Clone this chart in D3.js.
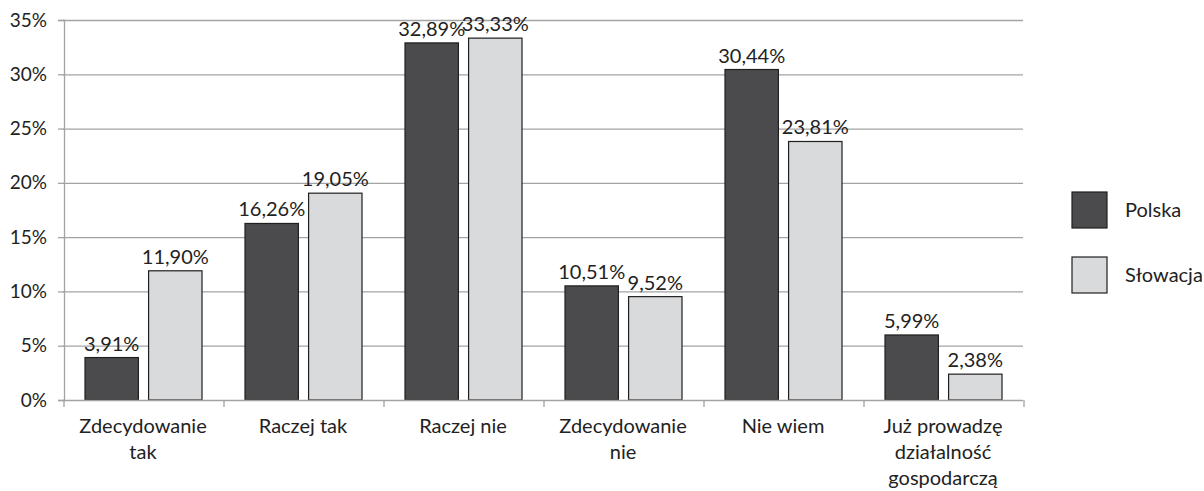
<!DOCTYPE html>
<html>
<head>
<meta charset="utf-8">
<script src="https://cdn.jsdelivr.net/npm/d3@7"></script>
<style>
  body { margin: 0; background: #fff; }
  text { font-family: Lato, "Open Sans", sans-serif; fill: #222; }
</style>
</head>
<body>
<div id="chart"></div>
<script>
const categories = [
  ["Zdecydowanie", "tak"],
  ["Raczej tak"],
  ["Raczej nie"],
  ["Zdecydowanie", "nie"],
  ["Nie wiem"],
  ["Już prowadzę", "działalność", "gospodarczą"]
];
const seriesNames = ["Polska", "Słowacja"];
const polska = [3.91, 16.26, 32.89, 10.51, 30.44, 5.99];
const slowacja = [11.90, 19.05, 33.33, 9.52, 23.81, 2.38];
const yTicks = [0, 5, 10, 15, 20, 25, 30, 35];
const colors = ["#4b4b4d", "#d9dadc"];

const width = 1204, height = 491;
const marginTop = 20, marginRight = 181, marginBottom = 91, marginLeft = 63;
const fontSize = 20;

const data = categories.map((c, i) => ({
  key: i,
  label: c,
  values: [polska[i], slowacja[i]]
}));

const svg = d3.select("#chart").append("svg")
  .attr("width", width)
  .attr("height", height);

const x0 = d3.scaleBand()
  .domain(data.map(d => d.key))
  .range([marginLeft, width - marginRight])
  .padding(0);

const x1 = d3.scaleBand()
  .domain(seriesNames)
  .range([22, 139])
  .paddingInner(0.16);

const y = d3.scaleLinear()
  .domain([0, 35])
  .range([height - marginBottom, marginTop]);

// gridlines
svg.append("g")
  .selectAll("line")
  .data(yTicks.slice(1))
  .join("line")
  .attr("x1", marginLeft)
  .attr("x2", width - marginRight)
  .attr("y1", d => y(d) + 0.5)
  .attr("y2", d => y(d) + 0.5)
  .attr("stroke", "#a3a3a3")
  .attr("stroke-width", 1.3);

// y axis
const yAxis = svg.append("g")
  .attr("transform", `translate(${marginLeft + 1},0)`)
  .call(d3.axisLeft(y).tickValues(yTicks).tickFormat(d => d + "%").tickSize(6).tickPadding(11));
yAxis.select(".domain").attr("stroke", "#a3a3a3").attr("stroke-width", 1.3);
yAxis.selectAll(".tick line").attr("stroke", "#a3a3a3").attr("stroke-width", 1.3);
yAxis.selectAll(".tick text").attr("font-size", 19).attr("font-family", "Lato").attr("fill", "#222");

// bars
const groups = svg.append("g")
  .selectAll("g")
  .data(data)
  .join("g")
  .attr("transform", d => `translate(${x0(d.key)},0)`);

groups.selectAll("rect")
  .data(d => d.values.map((v, j) => ({ series: seriesNames[j], value: v, j })))
  .join("rect")
  .attr("x", d => x1(d.series))
  .attr("y", d => y(d.value))
  .attr("width", x1.bandwidth())
  .attr("height", d => y(0) - y(d.value))
  .attr("fill", d => colors[d.j])
  .attr("stroke", "#1f1f1f")
  .attr("stroke-width", 1.2);

groups.selectAll("text.val")
  .data(d => d.values.map((v, j) => ({ series: seriesNames[j], value: v })))
  .join("text")
  .attr("class", "val")
  .attr("x", d => x1(d.series) + x1.bandwidth() / 2)
  .attr("y", d => y(d.value) - 7)
  .attr("text-anchor", "middle")
  .attr("font-size", fontSize)
  .text(d => d3.format(".2f")(d.value).replace(".", ",") + "%");

// x axis
const xAxisG = svg.append("g");
xAxisG.append("line")
  .attr("x1", marginLeft)
  .attr("x2", width - marginRight)
  .attr("y1", y(0) + 0.5)
  .attr("y2", y(0) + 0.5)
  .attr("stroke", "#a3a3a3")
  .attr("stroke-width", 1.3);
xAxisG.selectAll("line.tick")
  .data(d3.range(data.length + 1))
  .join("line")
  .attr("class", "tick")
  .attr("x1", i => (i < data.length ? x0(i) : x0(data.length - 1) + x0.bandwidth()) + 1)
  .attr("x2", i => (i < data.length ? x0(i) : x0(data.length - 1) + x0.bandwidth()) + 1)
  .attr("y1", y(0))
  .attr("y2", y(0) + 7)
  .attr("stroke", "#a3a3a3")
  .attr("stroke-width", 1.3);

const labels = xAxisG.selectAll("text")
  .data(data)
  .join("text")
  .attr("text-anchor", "middle")
  .attr("font-size", fontSize)
  .attr("x", d => x0(d.key) + x0.bandwidth() / 2)
  .attr("y", y(0) + 33);
labels.selectAll("tspan")
  .data(d => d.label)
  .join("tspan")
  .attr("x", function () { return d3.select(this.parentNode).attr("x"); })
  .attr("dy", (d, i) => i === 0 ? 0 : 26)
  .text(d => d);

// legend
const legend = svg.append("g")
  .selectAll("g")
  .data(seriesNames)
  .join("g")
  .attr("transform", (d, i) => `translate(1072,${192 + i * 65})`);
legend.append("rect")
  .attr("width", 35)
  .attr("height", 36)
  .attr("fill", (d, i) => colors[i])
  .attr("stroke", "#1f1f1f")
  .attr("stroke-width", 1.2);
legend.append("text")
  .attr("x", 53)
  .attr("y", 25)
  .attr("font-size", fontSize)
  .text(d => d);
</script>
</body>
</html>
